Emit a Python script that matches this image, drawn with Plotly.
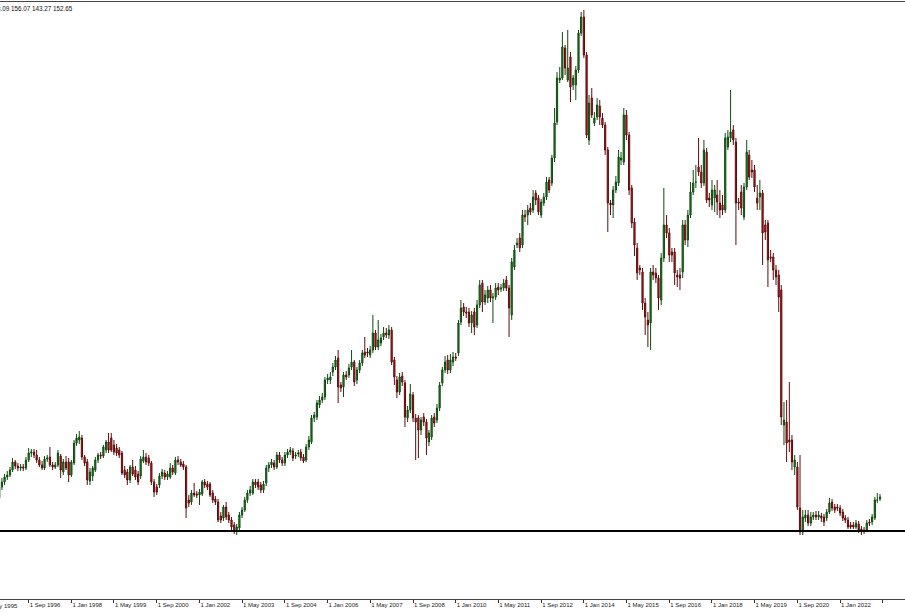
import pandas as pd
import plotly.graph_objects as go

open_ = [102,113,118,123,125,130,138,134,132,133,
 132,140,147,148,145,140,135,132,141,143,
 135,133,135,144,128,138,138,125,137,157,
 160,162,143,138,119,124,130,140,145,144,
 150,158,162,155,152,150,147,130,128,120,
 133,130,126,124,139,143,142,137,118,113,
 115,124,127,123,123,132,127,140,138,136,
 133,100,98,107,106,105,106,118,116,116,
 107,101,98,84,82,93,85,80,75,69,
 72,85,90,100,107,107,118,118,115,110,
 117,132,135,137,133,145,140,137,145,148,
 149,144,146,148,143,140,153,158,182,183,
 195,200,203,220,220,228,233,242,215,213,
 225,225,233,238,220,230,237,248,248,245,
 250,267,253,257,263,267,265,270,240,220,
 208,224,217,182,190,205,182,182,170,183,
 178,158,163,183,180,192,217,230,240,230,
 238,243,247,278,293,288,288,277,288,275,
 295,317,298,302,310,302,303,313,311,312,
 320,312,285,333,355,362,355,385,385,392,
 390,407,402,385,397,403,420,417,442,478,
 520,522,552,520,543,515,515,530,567,583,
 545,460,502,477,483,494,482,475,450,397,
 395,410,417,440,438,485,465,412,378,352,
 332,328,297,280,277,328,327,322,300,342,
 375,367,348,348,325,325,328,375,360,385,
 408,418,433,428,417,448,402,395,402,405,
 397,395,390,453,462,470,458,398,408,383,
 413,445,430,430,402,403,407,375,377,343,
 343,330,325,310,175,178,160,160,133,133,
 92,68,82,85,77,83,85,83,84,83,
 82,88,98,93,93,92,88,82,80,75,
 75,73,76,71,70,70,78,78,82,100,
 101]

high = [116,122,126,129,133,142,140,137,136,136,
 143,152,151,151,150,143,139,144,145,153,
 138,138,150,146,141,144,142,140,160,166,
 169,165,145,141,132,134,143,147,148,155,
 160,167,167,160,156,153,149,134,131,135,
 140,134,129,144,150,147,145,139,121,116,
 127,131,130,129,137,135,143,144,141,139,
 135,105,110,117,109,111,120,121,119,118,
 110,104,101,88,95,98,88,83,78,76,
 88,93,103,110,114,121,121,121,118,119,
 135,138,141,140,148,148,143,148,151,153,
 152,148,150,151,146,156,164,185,188,200,
 204,207,223,226,228,237,244,250,218,228,
 229,236,250,240,233,240,250,263,252,254,
 285,270,280,266,273,272,275,273,243,224,
 227,228,220,194,216,208,186,185,183,187,
 181,170,185,187,196,218,233,244,245,246,
 248,247,280,300,297,293,292,289,292,300,
 320,320,310,314,315,307,317,317,316,321,
 324,315,342,355,362,367,390,390,395,397,
 410,410,405,401,407,423,423,445,492,528,
 533,568,555,570,548,525,534,570,588,590,
 548,505,512,488,502,500,487,478,453,400,
 414,424,450,448,492,490,468,415,382,357,
 335,332,302,288,332,335,332,325,347,412,
 385,372,352,352,330,332,380,380,390,418,
 430,435,462,435,460,452,407,420,415,420,
 410,405,467,470,510,475,462,402,415,417,
 460,450,440,435,415,420,410,380,380,350,
 347,335,330,315,198,200,218,165,145,138,
 145,90,90,90,88,88,89,89,87,86,
 91,102,101,96,96,95,91,85,83,78,
 78,80,79,74,73,80,81,86,103,107,
 106]

low = [99,110,115,120,123,128,131,129,129,129,
 130,138,143,142,137,133,130,130,138,133,
 130,131,133,122,125,130,118,123,135,154,
 156,140,134,115,115,119,128,137,141,142,
 147,147,148,145,144,142,125,122,115,117,
 124,120,115,121,137,135,134,115,103,105,
 112,121,120,120,121,125,125,135,133,130,
 82,93,95,103,102,95,104,112,110,103,
 97,95,78,77,79,80,77,70,66,65,
 70,82,88,97,104,105,112,110,107,107,
 114,128,132,130,131,137,134,134,142,145,
 139,141,143,139,137,138,150,156,178,180,
 192,197,200,216,216,224,230,197,208,203,
 220,222,230,214,216,227,234,242,243,242,
 247,250,250,254,260,262,261,235,215,202,
 205,214,173,178,187,178,140,142,165,174,
 145,154,160,173,177,189,214,227,226,227,
 234,239,244,275,284,282,273,267,265,272,
 292,288,295,297,298,277,300,305,308,309,
 309,263,280,330,352,348,352,378,375,385,
 387,395,385,382,394,400,407,414,438,475,
 517,520,525,518,498,510,500,527,564,542,
 462,455,482,474,480,475,472,445,368,385,
 382,407,414,435,435,460,405,372,344,320,
 325,290,265,253,250,320,317,290,295,338,
 362,338,338,315,313,310,322,355,353,382,
 405,412,424,412,414,397,393,390,388,385,
 382,385,387,450,458,455,355,390,385,380,
 410,420,422,408,390,390,335,360,313,338,
 320,315,288,175,155,138,148,130,125,90,
 65,65,78,74,74,80,80,80,78,74,
 79,86,89,87,89,84,79,77,71,71,
 71,71,67,65,66,68,74,75,80,97,
 99]

close = [113,118,123,125,130,138,134,132,133,132,
 140,147,148,145,140,135,132,141,142,135,
 133,135,147,130,138,132,125,138,157,162,
 163,143,137,120,128,132,140,145,144,153,
 158,150,150,148,147,145,127,125,120,133,
 126,123,118,141,143,138,137,118,108,108,
 124,128,123,126,132,128,140,138,135,133,
 92,97,107,105,105,108,118,115,113,105,
 100,98,80,80,93,83,80,73,69,73,
 85,90,100,107,110,118,115,113,110,116,
 132,135,138,133,145,140,137,145,148,150,
 142,145,147,142,139,153,160,182,185,197,
 200,203,220,222,223,233,240,213,212,225,
 223,232,238,218,230,237,247,245,247,250,
 267,253,260,262,267,265,270,238,223,208,
 223,218,183,190,206,182,178,170,180,178,
 162,167,182,177,192,215,230,238,230,240,
 243,242,277,292,288,287,277,285,273,295,
 315,298,305,310,302,303,312,310,312,317,
 312,292,338,350,357,352,385,383,390,388,
 403,400,388,398,403,418,410,442,477,522,
 522,553,532,532,513,522,530,567,583,545,
 465,497,485,482,495,483,475,450,397,395,
 410,418,443,442,485,465,410,377,355,327,
 330,297,283,275,328,325,322,302,342,375,
 367,345,345,327,323,322,375,360,385,408,
 417,418,428,417,450,400,400,410,410,398,
 390,390,462,463,468,460,397,397,392,413,
 448,423,428,413,397,407,367,368,340,342,
 330,323,303,183,180,157,158,138,140,93,
 68,83,85,77,83,85,83,85,82,78,
 88,97,92,90,92,87,82,80,73,73,
 73,77,70,69,69,77,77,83,100,100,
 103]

support_level = 69
header_text = "153.09 156.07 143.27 152.65"
first_tick_label = "1 May 1995"

n = min(len(open_), len(high), len(low), len(close))
dates = pd.date_range("1995-10-01", periods=n, freq="MS")

fig = go.Figure(go.Candlestick(
    x=dates, open=open_[:n], high=high[:n], low=low[:n], close=close[:n],
    increasing=dict(line=dict(color="#0f4a0f", width=1), fillcolor="#268a26"),
    decreasing=dict(line=dict(color="#5e0c0c", width=1), fillcolor="#d61c1c"),
    showlegend=False, hoverinfo="skip",
))

fig.add_shape(type="line", xref="paper", x0=0, x1=1, yref="y",
              y0=support_level, y1=support_level,
              line=dict(color="#000000", width=2))

label_font = dict(family="Liberation Sans", size=6, color="#222")

fig.add_annotation(text=header_text, xref="paper", yref="paper",
                   x=75 / 905, y=1, xanchor="right", yanchor="top", yshift=-1,
                   showarrow=False, font=dict(family="Liberation Sans", size=6.3, color="#111"))
fig.add_annotation(text=first_tick_label, xref="paper", yref="paper",
                   x=-16 / 905, y=0, xanchor="left", yanchor="top", yshift=-2,
                   showarrow=False, font=label_font)

fig.update_layout(
    width=905, height=613,
    margin=dict(l=0, r=0, t=2, b=14),
    paper_bgcolor="white", plot_bgcolor="white",
    xaxis=dict(
        type="date", range=["1995-10-10", "2024-01-11"],
        rangeslider=dict(visible=False),
        tick0="1995-05-01", dtick="M16", tickformat="%-d %b %Y",
        ticks="outside", ticklen=3, tickcolor="#333", tickwidth=1,
        ticklabelposition="outside right", tickangle=0,
        tickfont=label_font,
        showgrid=False, zeroline=False,
        showline=True, linecolor="#444", linewidth=1, mirror=True,
    ),
    yaxis=dict(range=[1, 598], visible=False, showgrid=False, zeroline=False),
)

fig.write_html("out.html", config={"displayModeBar": False, "staticPlot": True},
               post_script="document.body.style.margin='0';document.body.style.overflow='hidden';")
